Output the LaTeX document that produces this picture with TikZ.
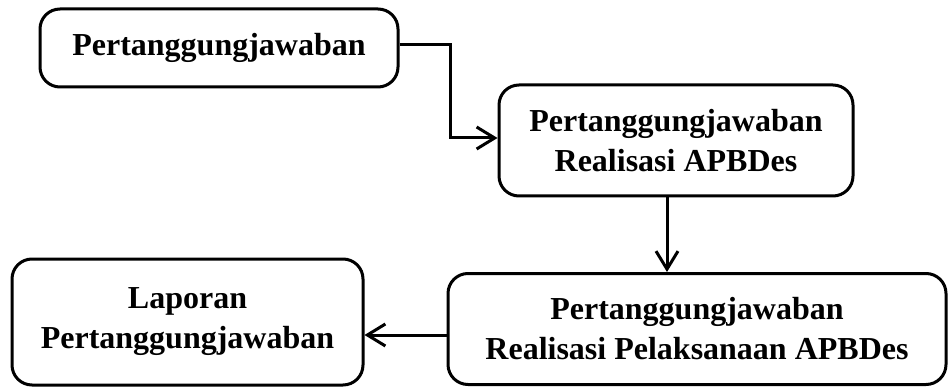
\documentclass[tikz,border=0pt]{standalone}
\usepackage{fontspec}
\setmainfont{Liberation Serif}
\usetikzlibrary{arrows.meta}
\begin{document}
\begin{tikzpicture}[x=1pt,y=-1pt,
  box/.style={draw=black, line width=3pt, rounded corners=20pt, align=center,
    font=\fontsize{32}{40}\selectfont\bfseries, inner sep=0pt},
  conn/.style={line width=3pt, -{Straight Barb[length=18pt,width=22pt,line width=3pt]}}]
\useasboundingbox (0,0) rectangle (949,387);
\node[box, minimum width=358pt, minimum height=78pt] (b1) at (219,48) {Pertanggungjawaban};
\node[box, minimum width=354pt, minimum height=111pt] (b2) at (676,140.5) {Pertanggungjawaban\\Realisasi APBDes};
\node[box, minimum width=498pt, minimum height=111pt] (b3) at (697,329) {Pertanggungjawaban\\Realisasi Pelaksanaan APBDes};
\node[box, minimum width=351pt, minimum height=126pt] (b4) at (187.5,322) {Laporan\\Pertanggungjawaban};
\coordinate (k1) at (450,45);
\coordinate (k2) at (450,138);
\draw[conn] (b1.east |- k1) -- (k1) -- (k2) -- (k2 -| b2.west);
\draw[conn] (b2.south -| 667,0) -- (b3.north -| 667,0);
\coordinate (k3) at (0,335);
\draw[conn] (b3.west |- k3) -- (b4.east |- k3);
\end{tikzpicture}
\end{document}
